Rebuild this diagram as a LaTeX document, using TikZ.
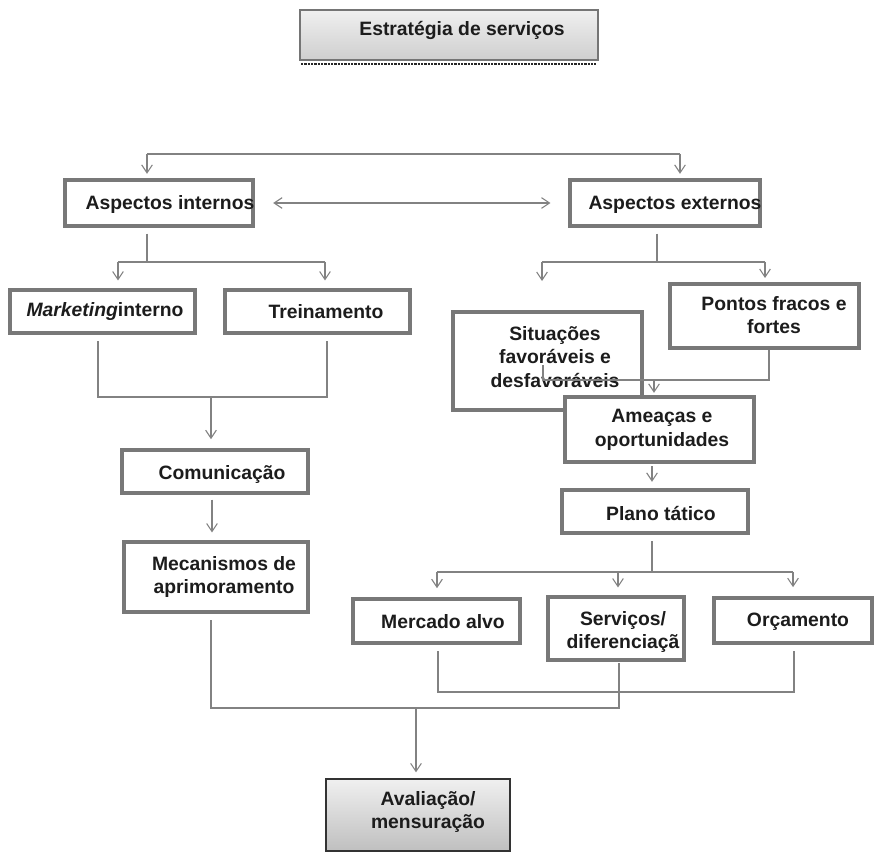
\documentclass[tikz,border=0pt]{standalone}
\usepackage{fontspec}
\setmainfont{Liberation Sans}
\usetikzlibrary{arrows.meta,fit}
\definecolor{lnc}{HTML}{828282}
\definecolor{bdc}{HTML}{787878}
\definecolor{txc}{HTML}{1C1C1C}
\begin{document}
\begin{tikzpicture}[x=0.75pt,y=-0.75pt,
  box/.style={draw=bdc, line width=2.3pt, fill=white, inner sep=0pt},
  lbl/.style={font=\fontsize{14.5}{17.5}\selectfont\bfseries, text=txc, align=center, inner sep=0pt, yshift=-1.5pt},
  ln/.style={draw=lnc, line width=1.1pt},
  tip/.tip={Straight Barb[length=6pt,width=8pt,line width=0.8pt]},
  arr/.style={ln, -tip},
  darr/.style={ln, tip-tip}
]
\fill[white] (0,0) rectangle (874,852);
\useasboundingbox (0,0) rectangle (874,852);

% top box
\node[draw=lnc!90!black, line width=1.3pt, top color=black!6, bottom color=black!19, inner sep=0pt, fit={(300,10) (598,60)}] (top) {};
\node[lbl] (top-t) at (462,28) {Estratégia de serviços};
\draw[line width=2pt, dash pattern=on 1.6pt off 0.9pt, black!85] (top.south west) ++(2,3) -- ++(295,0);

% aspects
\node[box, fit={(65,180) (253,226)}] (ai) {};
\node[lbl] (ai-t) at (170,203) {Aspectos internos};
\node[box, fit={(570,180) (760,226)}] (ae) {};
\node[lbl] (ae-t) at (675,203) {Aspectos externos};

% top bracket
\coordinate (tbL) at (147,154);
\coordinate (tbR) at (680,154);
\draw[ln] (tbL) -- (tbR);
\draw[arr, shorten >=3.5pt] (tbL) -- (tbL |- ai.north);
\draw[arr, shorten >=3.5pt] (tbR) -- (tbR |- ae.north);
\draw[darr, shorten <=14pt, shorten >=13.5pt] (ai.east) -- (ae.west);

% left branch
\node[box, fit={(10,290) (195,333)}] (mi) {};
\node[lbl] (mi-t) at (105,310) {\textit{Marketing}interno};
\node[box, fit={(225,290) (410,333)}] (tr) {};
\node[lbl] (tr-t) at (326,310) {Treinamento};
\coordinate (aiJ) at (147,262);
\coordinate (aiL) at (118,262);
\coordinate (aiR) at (325,262);
\draw[ln, shorten <=4.5pt] (aiJ |- ai.south) -- (aiJ);
\draw[ln] (aiL) -- (aiR);
\draw[arr, shorten >=6pt] (aiL) -- (aiL |- mi.north);
\draw[arr, shorten >=6pt] (aiR) -- (aiR |- tr.north);

\node[box, fit={(122,450) (308,493)}] (co) {};
\node[lbl] (co-t) at (222,472) {Comunicação};
\coordinate (mL) at (98,397);
\coordinate (mR) at (327,397);
\coordinate (mJ) at (211,397);
\draw[ln, shorten <=5pt, shorten >=5pt] (mL |- mi.south) -- (mL) -- (mR) -- (mR |- tr.south);
\draw[arr, shorten >=7pt] (mJ) -- (mJ |- co.north);

\node[box, fit={(124,542) (308,612)}] (me) {};
\node[lbl] (me-t) at (224,575) {Mecanismos de\\aprimoramento};
\coordinate (cJ) at (212,493);
\draw[arr, shorten <=5pt, shorten >=6pt] (cJ) -- (cJ |- me.north);

% right branch
\node[box, fit={(670,284) (859,348)}] (pf) {};
\node[lbl] (pf-t) at (774,313) {Pontos fracos e\\fortes};
\node[box, fit={(453,312) (642,410)}] (si) {};
\node[lbl] (si-t) at (555,355) {Situações\\favoráveis e\\desfavoráveis};

\coordinate (aeJ) at (657,262);
\coordinate (aeL) at (542,262);
\coordinate (aeR) at (765,262);
\coordinate (aeLe) at (542,281);
\coordinate (aeRe) at (765,278);
\draw[ln, shorten <=4.5pt] (aeJ |- ae.south) -- (aeJ);
\draw[ln] (aeL) -- (aeR);
\draw[arr] (aeL) -- (aeLe);
\draw[arr] (aeR) -- (aeRe);

\coordinate (sS) at (543,365);
\coordinate (sJ) at (543,380);
\coordinate (pJ) at (769,380);
\coordinate (aJ) at (654,380);
\draw[ln] (sS) -- (sJ) -- (pJ) -- (pJ |- pf.south);

\node[box, fit={(565,397) (754,462)}] (am) {};
\node[lbl] (am-t) at (662,428) {Ameaças e\\oportunidades};
\draw[arr, shorten >=2pt] (aJ) -- (aJ |- am.north);

\node[box, fit={(562,490) (748,533)}] (pt) {};
\node[lbl] (pt-t) at (661,512) {Plano tático};
\coordinate (amJ) at (652,462);
\draw[arr, shorten <=3pt, shorten >=5pt] (amJ) -- (amJ |- pt.north);

\node[box, fit={(353,599) (520,643)}] (ma) {};
\node[lbl] (ma-t) at (443,620) {Mercado alvo};
\node[box, fit={(548,597) (684,660)}] (se) {};
\node[lbl] (se-t) at (623,630) {Serviços/\\diferenciaçã};
\node[box, fit={(714,598) (872,643)}] (or) {};
\node[lbl] (or-t) at (798,620) {Orçamento};

\coordinate (ptJ) at (652,572);
\coordinate (pL) at (437,572);
\coordinate (pM) at (618,572);
\coordinate (pR) at (793,572);
\draw[ln, shorten <=5pt] (ptJ |- pt.south) -- (ptJ);
\draw[ln] (pL) -- (pR);
\draw[arr, shorten >=7pt] (pL) -- (pL |- ma.north);
\draw[arr, shorten >=6pt] (pM) -- (pM |- se.north);
\draw[arr, shorten >=7pt] (pR) -- (pR |- or.north);

\coordinate (bL) at (438,692);
\coordinate (bR) at (794,692);
\draw[ln] ([yshift=-5pt]bL |- ma.south) -- (bL) -- (bR) -- ([yshift=-5pt]bR |- or.south);

% bottom
\node[draw=black!80, line width=1pt, top color=black!6, bottom color=black!25, inner sep=0pt, fit={(326,779) (510,851)}] (av) {};
\node[lbl] (av-t) at (428,810) {Avaliação/\\mensuração};
\coordinate (eL) at (211,708);
\coordinate (eR) at (619,708);
\coordinate (eJ) at (416,708);
\draw[ln] ([yshift=-5pt]eL |- me.south) -- (eL) -- (eR) -- ([yshift=-1pt]eR |- se.south);
\draw[arr, shorten >=4.5pt] (eJ) -- (eJ |- av.north);
\end{tikzpicture}
\end{document}
